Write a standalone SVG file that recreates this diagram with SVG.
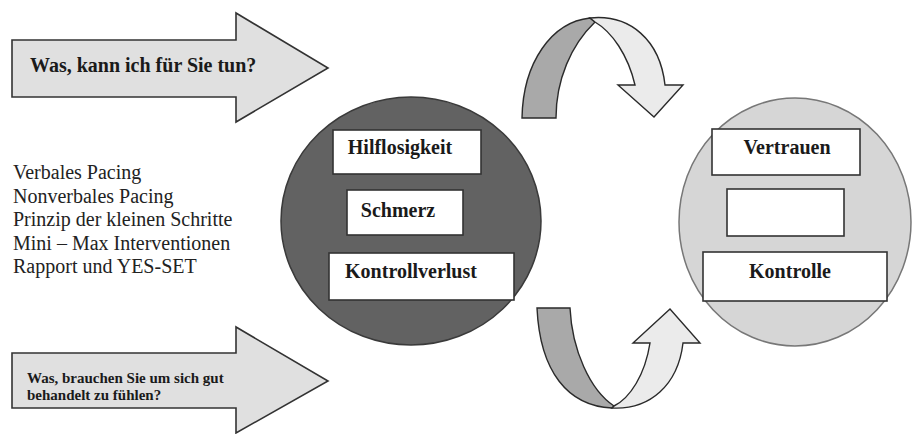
<svg xmlns="http://www.w3.org/2000/svg" width="914" height="434" viewBox="0 0 914 434">
<style>
.arrow{fill:#e0e0e0;stroke:#333;stroke-width:1.6;stroke-linejoin:miter}
.box{fill:#fff;stroke:#333;stroke-width:1.6}
.lbl{font-family:"Liberation Serif","Times New Roman",serif;font-weight:bold;font-size:20px;fill:#1a1a1a}
.list{font-family:"Liberation Serif","Times New Roman",serif;font-size:20px;fill:#222}
.dk{fill:#a9a9a9;stroke:#2a2a2a;stroke-width:1.4}
.lt{fill:#ebebeb;stroke:#2a2a2a;stroke-width:1.4}
</style>
<rect width="914" height="434" fill="#fff"/>
<g id="arrow-top">
<polygon class="arrow" points="12,40 236,40 236,13 328,68 236,122 236,97 12,97"/>
<text class="lbl" x="30" y="72">Was, kann ich für Sie tun?</text>
</g>
<g id="arrow-bottom">
<polygon class="arrow" points="12,353 236,353 236,327 328,381 236,433 236,408 12,408"/>
<text class="lbl" style="font-size:15px" x="27" y="383">Was, brauchen Sie um sich gut</text>
<text class="lbl" style="font-size:15px" x="27" y="400">behandelt zu fühlen?</text>
</g>
<g id="list">
<text class="list" x="13" y="179">Verbales Pacing</text>
<text class="list" x="13" y="203">Nonverbales Pacing</text>
<text class="list" x="13" y="226">Prinzip der kleinen Schritte</text>
<text class="list" x="13" y="250">Mini – Max Interventionen</text>
<text class="list" x="13" y="273">Rapport und YES-SET</text>
</g>
<g id="circle-left">
<ellipse cx="411" cy="221" rx="130" ry="124" fill="#626262" stroke="#3a3a3a" stroke-width="1.5"/>
<rect class="box" x="333" y="130" width="148" height="44"/>
<text class="lbl" x="400" y="154" text-anchor="middle">Hilflosigkeit</text>
<rect class="box" x="347" y="190" width="116" height="45"/>
<text class="lbl" x="398" y="217" text-anchor="middle">Schmerz</text>
<rect class="box" x="329" y="253" width="185" height="47"/>
<text class="lbl" x="411" y="278" text-anchor="middle">Kontrollverlust</text>
</g>
<g id="circle-right">
<ellipse cx="795" cy="222" rx="116" ry="124" fill="#d6d6d6" stroke="#777" stroke-width="1.5"/>
<rect class="box" x="712" y="129" width="148" height="46"/>
<text class="lbl" x="787" y="154" text-anchor="middle">Vertrauen</text>
<rect class="box" x="727" y="189" width="117" height="47"/>
<rect class="box" x="703" y="252" width="184" height="49"/>
<text class="lbl" x="790" y="278" text-anchor="middle">Kontrolle</text>
</g>
<g id="connectors">
<g id="curve-top">
<path class="dk" d="M522,118 C523,62 552,22 590,18 L595,22 C571,45 556,80 556,118 Z"/>
<path class="lt" d="M590,18 C630,14 660,40 665,85 L683,85 L654,117 L618,85 L635,85 C628,55 612,32 595,22 Z"/>
</g>
<g id="curve-bottom">
<path class="dk" d="M537,308 L570,308 C572,350 590,390 614,406 L612,408 C568,406 540,372 537,308 Z"/>
<path class="lt" d="M612,408 C650,410 678,385 683,343 L700,343 L670,309 L633,343 L650,343 C645,375 630,398 614,406 Z"/>
</g>
</g>
</svg>
